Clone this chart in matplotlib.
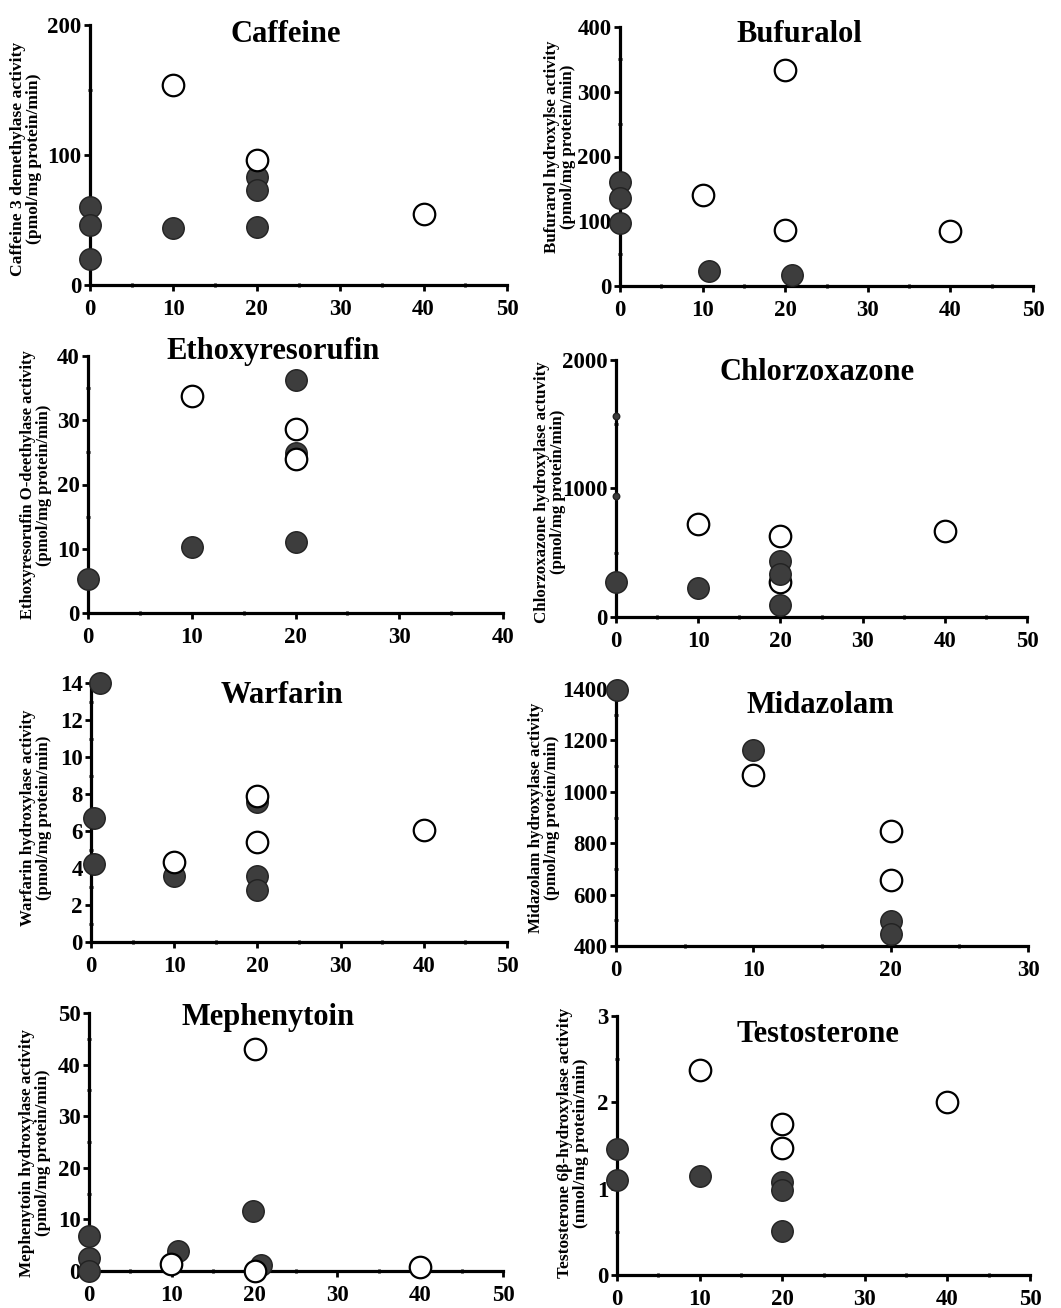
import matplotlib
matplotlib.use("Agg")
import matplotlib.pyplot as plt
from matplotlib.ticker import MultipleLocator

plt.rcParams['font.family'] = ['Liberation Serif', 'DejaVu Serif']
plt.rcParams['font.weight'] = 'bold'

W, H = 1061, 1308

# ---- data ----
caf_fill_x = [0, 0, 0, 10, 20, 20, 20]
caf_fill_y = [60, 46, 20, 44, 83, 73, 45]
caf_open_x = [10, 20, 40]
caf_open_y = [154, 96, 55]

buf_fill_x = [0, 0, 0, 10.8, 20.8]
buf_fill_y = [160, 136, 97, 23, 17]
buf_open_x = [10, 20, 20, 40]
buf_open_y = [140, 333, 86, 85]

eth_fill_x = [0, 10, 20, 20, 20]
eth_fill_y = [5.3, 10.2, 36.3, 24.9, 11.1]
eth_open_x = [10, 20, 20]
eth_open_y = [33.8, 28.6, 23.9]

chl_fill_x = [0, 10, 20, 20, 20]
chl_fill_y = [273, 226, 436, 338, 91]
chl_open_x = [10, 20, 20, 40]
chl_open_y = [722, 629, 273, 670]
chl_dot_x = [0, 0]
chl_dot_y = [1564, 943]

war_fill_x = [1.1, 0.4, 0.4, 10, 20, 20, 20]
war_fill_y = [14.0, 6.7, 4.2, 3.55, 7.57, 3.55, 2.83]
war_open_x = [10, 20, 20, 40]
war_open_y = [4.32, 7.87, 5.4, 6.07]

mid_fill_x = [0.1, 10, 20, 20]
mid_fill_y = [1397, 1161, 499, 447]
mid_open_x = [10, 20, 20]
mid_open_y = [1066, 848, 655]

mep_fill_x = [0, 0, 0, 10.7, 19.8, 20.8]
mep_fill_y = [6.7, 2.6, 0, 3.8, 11.6, 1.2]
mep_open_x = [9.9, 20, 20, 40]
mep_open_y = [1.4, 0, 43, 0.7]

tes_fill_x = [0, 0, 10, 20, 20, 20]
tes_fill_y = [1.46, 1.10, 1.15, 1.08, 0.98, 0.51]
tes_open_x = [10, 20, 20, 40]
tes_open_y = [2.37, 1.75, 1.47, 2.0]

# panel settings: box in pixels (L, R, T, B), limits, ticks, title, ylabel
panels = [
    dict(box=(90, 507, 25, 285), xlim=(0, 50), ylim=(0, 200), xmaj=10, ymaj=100, ymin=50,
         title="Caffeine", tpos=(286, 34),
         ylab="Caffeine 3 demethylase activity\n(pmol/mg protein/min)", lpos=(26, 159), lfs=12.6,
         fill=(caf_fill_x, caf_fill_y), open=(caf_open_x, caf_open_y), open_top=True),
    dict(box=(620, 1033, 27, 286), xlim=(0, 50), ylim=(0, 400), xmaj=10, ymaj=100, ymin=50,
         title="Bufuralol", tpos=(799, 34),
         ylab="Bufurarol hydroxylse activity\n(pmol/mg protein/min)", lpos=(560, 147), lfs=12.2,
         fill=(buf_fill_x, buf_fill_y), open=(buf_open_x, buf_open_y), open_top=True),
    dict(box=(88, 503, 356, 613), xlim=(0, 40), ylim=(0, 40), xmaj=10, ymaj=10, ymin=5,
         title="Ethoxyresorufin", tpos=(273, 352),
         ylab="Ethoxyresorufin O-deethylase activity\n(pmol/mg protein/min)", lpos=(36, 485), lfs=12,
         fill=(eth_fill_x, eth_fill_y), open=(eth_open_x, eth_open_y), open_top=True),
    dict(box=(616, 1027, 360, 617), xlim=(0, 50), ylim=(0, 2000), xmaj=10, ymaj=1000, ymin=500,
         title="Chlorzoxazone", tpos=(817, 372),
         ylab="Chlorzoxazone hydroxylase actuvity\n(pmol/mg protein/min)", lpos=(550, 492), lfs=12.2,
         fill=(chl_fill_x, chl_fill_y), open=(chl_open_x, chl_open_y), open_top=False),
    dict(box=(91, 507, 683, 942), xlim=(0, 50), ylim=(0, 14), xmaj=10, ymaj=2, ymin=1,
         title="Warfarin", tpos=(282, 695),
         ylab="Warfarin hydroxylase activity\n(pmol/mg protein/min)", lpos=(36, 818), lfs=12.2,
         fill=(war_fill_x, war_fill_y), open=(war_open_x, war_open_y), open_top=True),
    dict(box=(616, 1028, 689, 946), xlim=(0, 30), ylim=(400, 1400), xmaj=10, ymaj=200, ymin=100,
         title="Midazolam", tpos=(820, 705),
         ylab="Midazolam hydroxylase activity\n(pmol/mg protein/min)", lpos=(544, 818), lfs=12.2,
         fill=(mid_fill_x, mid_fill_y), open=(mid_open_x, mid_open_y), open_top=True),
    dict(box=(89, 503, 1013, 1271), xlim=(0, 50), ylim=(0, 50), xmaj=10, ymaj=10, ymin=5,
         title="Mephenytoin", tpos=(268, 1017),
         ylab="Mephenytoin hydroxylase activity\n(pmol/mg protein/min)", lpos=(35, 1153), lfs=12.3,
         fill=(mep_fill_x, mep_fill_y), open=(mep_open_x, mep_open_y), open_top=True),
    dict(box=(617, 1030, 1016, 1275), xlim=(0, 50), ylim=(0, 3), xmaj=10, ymaj=1, ymin=0.5,
         title="Testosterone", tpos=(818, 1035),
         ylab="Testosterone 6\u03b2-hydroxylase activity\n(nmol/mg protein/min)", lpos=(573, 1143), lfs=12.5,
         fill=(tes_fill_x, tes_fill_y), open=(tes_open_x, tes_open_y), open_top=True),
]

fig = plt.figure(figsize=(W / 100, H / 100), dpi=100)

fill_col = '#3d3d3d'
msize = 240

for p in panels:
    L, R, T, B = p['box']
    ax = fig.add_axes([L / W, 1 - B / H, (R - L) / W, (B - T) / H])
    ax.set_xlim(*p['xlim'])
    ax.set_ylim(*p['ylim'])
    for s in ['top', 'right']:
        ax.spines[s].set_visible(False)
    for s in ['left', 'bottom']:
        ax.spines[s].set_linewidth(2.3)
    ax.xaxis.set_major_locator(MultipleLocator(p['xmaj']))
    ax.xaxis.set_minor_locator(MultipleLocator(5))
    ax.yaxis.set_major_locator(MultipleLocator(p['ymaj']))
    ax.yaxis.set_minor_locator(MultipleLocator(p['ymin']))
    ax.tick_params(which='major', length=4, width=2, direction='out', labelsize=16.5, pad=2)
    ax.tick_params(axis='x', which='major', pad=6)
    ax.tick_params(which='minor', length=3, width=2, direction='inout')
    for lab in ax.get_xticklabels() + ax.get_yticklabels():
        lab.set_fontweight('bold')

    zf, zo = (3, 4) if p['open_top'] else (4, 3)
    ax.scatter(*p['fill'], s=msize, facecolor=fill_col, edgecolor='#222222',
               linewidth=1.0, zorder=zf, clip_on=False)
    ax.scatter(*p['open'], s=msize, facecolor='white', edgecolor='black',
               linewidth=1.6, zorder=zo, clip_on=False)
    if p['title'] == "Chlorzoxazone":
        ax.scatter(chl_dot_x, chl_dot_y, s=22, facecolor=fill_col, edgecolor='#222222',
                   zorder=5, clip_on=False)

    tx, ty = p['tpos']
    fig.text(tx / W, 1 - ty / H, p['title'], ha='center', va='center',
             fontsize=22, fontweight='bold')
    lx, ly = p['lpos']
    fig.text(lx / W, 1 - ly / H, p['ylab'], ha='center', va='center', rotation=90,
             fontsize=p['lfs'], fontweight='bold', linespacing=0.95)

fig.savefig("out.png", dpi=100)
